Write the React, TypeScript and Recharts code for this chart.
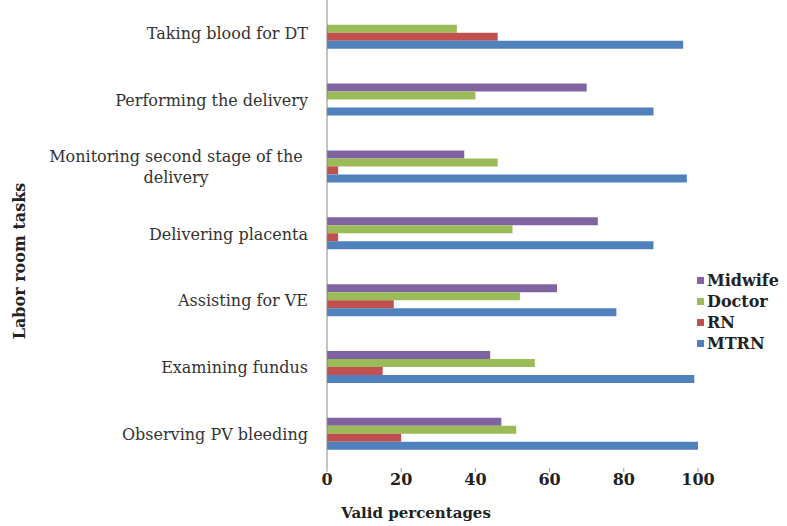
import React from "react";
import { BarChart, Bar, XAxis, YAxis } from "recharts";

const categories = [
  "Taking blood for DT",
  "Performing the delivery",
  "Monitoring second stage of the delivery",
  "Delivering placenta",
  "Assisting for VE",
  "Examining fundus",
  "Observing PV bleeding",
];
const midwife = [0, 70, 37, 73, 62, 44, 47];
const doctor = [35, 40, 46, 50, 52, 56, 51];
const rn = [46, 0, 3, 3, 18, 15, 20];
const mtrn = [96, 88, 97, 88, 78, 99, 100];
const xTicks = [0, 20, 40, 60, 80, 100];

const seriesNames = ["Midwife", "Doctor", "RN", "MTRN"];
const seriesKeys = ["midwife", "doctor", "rn", "mtrn"];
const seriesColors = ["#8064A2", "#9BBB59", "#C0504D", "#4F81BD"];

const data = categories.map((c, i) => ({
  name: c,
  midwife: midwife[i],
  doctor: doctor[i],
  rn: rn[i],
  mtrn: mtrn[i],
}));

const SERIF = "'DejaVu Serif', 'Liberation Serif', serif";

function wrap(text: string, max: number): string[] {
  const words = text.split(" ");
  const lines: string[] = [];
  let cur = "";
  for (const w of words) {
    const t = cur ? cur + " " + w : w;
    if (t.length > max && cur) {
      lines.push(cur);
      cur = w;
    } else cur = t;
  }
  if (cur) lines.push(cur);
  return lines;
}

const YTick = (props: any) => {
  const { x, y, payload } = props;
  const lines = wrap(payload.value, 30);
  const right = x - 11;
  if (lines.length === 1) {
    return (
      <text x={right} y={y} dy="0.35em" textAnchor="end" fontFamily={SERIF} fontSize={16} fill="#333">
        {lines[0]}
      </text>
    );
  }
  const maxLen = Math.max(...lines.map((l) => l.length));
  const cx = right - 6 - (maxLen * 8.4) / 2;
  const lh = 21;
  const y0 = y - ((lines.length - 1) * lh) / 2;
  return (
    <text textAnchor="middle" fontFamily={SERIF} fontSize={16} fill="#333">
      {lines.map((l, i) => (
        <tspan key={i} x={cx} y={y0 + i * lh} dy="0.35em">
          {l}
        </tspan>
      ))}
    </text>
  );
};

const LegendBox = () => (
  <div
    style={{
      position: "absolute",
      left: 697,
      top: 270,
      fontFamily: SERIF,
      fontWeight: "bold",
      fontSize: 16,
      color: "#222",
    }}
  >
    {seriesNames.map((n, i) => (
      <div key={n} style={{ display: "flex", alignItems: "center", height: 21 }}>
        <span style={{ display: "inline-block", width: 7, height: 7, background: seriesColors[i], marginRight: 3 }} />
        <span>{n}</span>
      </div>
    ))}
  </div>
);

export default function App() {
  return (
    <div style={{ position: "absolute", left: 0, top: 0, width: 787, height: 526, background: "#fff" }}>
      <BarChart
        width={787}
        height={526}
        data={data}
        layout="vertical"
        margin={{ top: 0, right: 89, bottom: 28, left: 0 }}
        barCategoryGap="25%"
        barGap={0}
      >
        <XAxis
          type="number"
          domain={[0, 100]}
          ticks={xTicks}
          axisLine={false}
          tickLine={{ stroke: "#999" }}
          tickSize={4}
          tick={{ fontFamily: SERIF, fontWeight: "bold", fontSize: 16, fill: "#222" }}
          height={30}
          label={{
            content: () => (
              <text x={416} y={518} textAnchor="middle" fontFamily={SERIF} fontWeight="bold" fontSize={15} fill="#222">
                Valid percentages
              </text>
            ),
          }}
        />
        <YAxis
          type="category"
          dataKey="name"
          width={327}
          axisLine={{ stroke: "#888" }}
          tickLine={false}
          tick={<YTick />}
          interval={0}
          label={{
            content: () => (
              <text
                x={25}
                y={261}
                transform="rotate(-90, 25, 261)"
                textAnchor="middle"
                fontFamily={SERIF}
                fontWeight="bold"
                fontSize={16}
                fill="#222"
              >
                Labor room tasks
              </text>
            ),
          }}
        />
        {seriesKeys.map((k, i) => (
          <Bar key={k} dataKey={k} name={seriesNames[i]} fill={seriesColors[i]} isAnimationActive={false} />
        ))}
      </BarChart>
      <LegendBox />
    </div>
  );
}
